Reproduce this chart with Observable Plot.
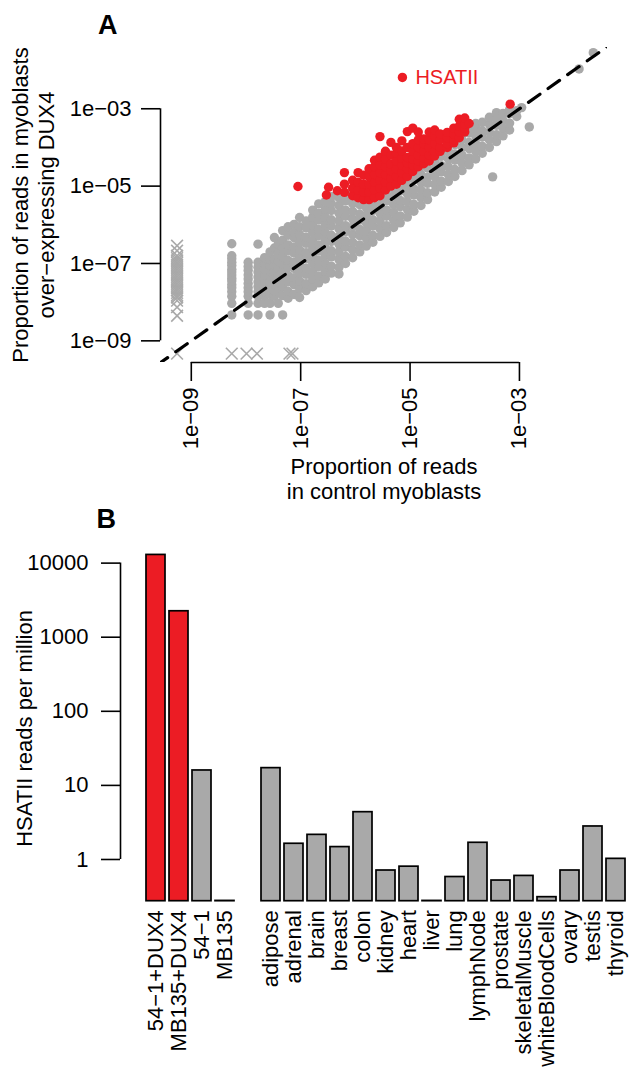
<!DOCTYPE html>
<html><head><meta charset="utf-8">
<script src="https://cdn.jsdelivr.net/npm/d3@7"></script>
<script src="https://cdn.jsdelivr.net/npm/@observablehq/plot@0.6"></script>
<style>
body{margin:0;background:#fff;}
#chart svg{display:block;overflow:visible;}
</style></head><body><div id="chart"></div>
<script>
// ---------------- Panel A data (log10 proportion of reads) ----------------
// x = control myoblasts, y = myoblasts over-expressing DUX4
const scatterTicks = [1e-9, 1e-7, 1e-5, 1e-3];
const scatterTickLabels = ["1e\u221209", "1e\u221207", "1e\u221205", "1e\u221203"];

// repeats with zero reads in one sample (drawn as crosses at the pseudo value)
const crossPairs = [
  [-9.26,-6.54],[-9.26,-6.67],[-9.26,-6.8],[-9.26,-6.86],[-9.26,-6.92],[-9.26,-6.98],[-9.26,-7.04],
  [-9.26,-7.1],[-9.26,-7.16],[-9.26,-7.22],[-9.26,-7.28],[-9.26,-7.34],[-9.26,-7.4],[-9.26,-7.46],
  [-9.26,-7.52],[-9.26,-7.58],[-9.26,-7.64],[-9.26,-7.7],[-9.26,-7.76],[-9.26,-7.82],[-9.26,-7.88],
  [-9.26,-7.96],[-9.26,-8.13],[-9.26,-8.35],
  [-9.26,-9.33],[-8.26,-9.33],[-7.99,-9.33],[-7.8,-9.33],[-7.205,-9.33],[-7.15,-9.33]
];

// grey repeats: [control log10, [DUX4 log10 values]]
const greyColumns = [
  [-8.26,[-8.33,-8.03,-7.85,-7.73,-7.63,-7.55,-7.45,-7.38,-7.3,-7.22,-7.15,-7.05,-6.97,-6.88,-6.8,-6.49]],
  [-7.96,[-8.33,-8.03,-7.85,-7.73,-7.63,-7.52,-7.4,-7.3,-7.18,-7.08,-6.97]],
  [-7.78,[-8.33,-8.03,-7.85,-7.73,-7.6,-7.48,-7.35,-7.22,-7.1,-6.97,-6.5]],
  [-7.66,[-8.03,-7.85,-7.73,-7.6,-7.45,-7.3,-7.15,-7.0,-6.85]],
  [-7.56,[-8.33,-8.03,-7.8,-7.63,-7.48,-7.33,-7.2,-7.05,-6.9,-6.7]],
  [-7.48,[-7.85,-7.7,-7.55,-7.38,-7.22,-7.05,-6.88,-6.6,-6.33]],
  [-7.41,[-8.03,-7.73,-7.5,-7.3,-7.12,-6.95,-6.75,-6.5]],
  [-7.33,[-8.33,-7.83,-7.6,-7.4,-7.2,-7.0,-6.82,-6.6,-6.4,-6.15]],
  [-7.23,[-7.9,-7.72,-7.48,-7.31,-7.08,-6.92,-6.68,-6.52,-6.27,-6.05]],
  [-7.12,[-7.8,-7.55,-7.37,-7.13,-6.97,-6.73,-6.57,-6.33,-6.2,-5.99]],
  [-7.02,[-7.88,-7.65,-7.45,-7.25,-7.05,-6.85,-6.65,-6.45,-6.25,-6.05,-5.81]],
  [-6.9,[-7.7,-7.52,-7.28,-7.12,-6.88,-6.72,-6.48,-6.32,-6.08,-5.9]],
  [-6.78,[-7.6,-7.4,-7.2,-7.0,-6.8,-6.6,-6.4,-6.2,-6.0,-5.8,-5.62]],
  [-6.67,[-7.5,-7.32,-7.08,-6.92,-6.68,-6.52,-6.28,-6.12,-5.88,-5.7,-5.46]],
  [-6.55,[-7.4,-7.2,-7.0,-6.8,-6.6,-6.4,-6.2,-6.0,-5.8,-5.6,-5.4]],
  [-6.44,[-7.25,-7.07,-6.83,-6.67,-6.43,-6.27,-6.03,-5.87,-5.63,-5.45,-5.27]],
  [-6.3,[-7.27,-7.1,-6.9,-6.7,-6.5,-6.3,-6.1,-5.9,-5.7,-5.5,-5.3]],
  [-6.18,[-7.0,-6.82,-6.58,-6.42,-6.18,-6.02,-5.78,-5.62,-5.38,-5.2]],
  [-6.05,[-6.85,-6.65,-6.45,-6.25,-6.05,-5.85,-5.65,-5.45,-5.25,-5.1]],
  [-5.92,[-6.7,-6.52,-6.28,-6.12,-5.88,-5.72,-5.48,-5.32,-5.1]],
  [-5.8,[-6.55,-6.35,-6.15,-5.95,-5.75,-5.55,-5.35,-5.15,-4.98]],
  [-5.68,[-6.45,-6.27,-6.03,-5.87,-5.63,-5.47,-5.23,-5.07,-4.9]],
  [-5.55,[-6.3,-6.1,-5.9,-5.7,-5.5,-5.3,-5.1,-4.9]],
  [-5.43,[-6.2,-6.02,-5.78,-5.62,-5.38,-5.22,-4.98,-4.8]],
  [-5.3,[-6.07,-5.88,-5.68,-5.48,-5.28,-5.08,-4.88,-4.7]],
  [-5.18,[-5.95,-5.77,-5.53,-5.37,-5.13,-4.97,-4.73,-4.6]],
  [-5.05,[-5.8,-5.6,-5.4,-5.2,-5.0,-4.8,-4.6]],
  [-4.93,[-5.65,-5.47,-5.23,-5.07,-4.83,-4.67,-4.45]],
  [-4.8,[-5.5,-5.3,-5.1,-4.9,-4.7,-4.5,-4.32]],
  [-4.68,[-5.35,-5.17,-4.93,-4.77,-4.53,-4.37,-4.2]],
  [-4.55,[-5.15,-4.95,-4.75,-4.55,-4.35,-4.15]],
  [-4.43,[-5.03,-4.87,-4.63,-4.47,-4.23,-4.05]],
  [-4.3,[-4.88,-4.7,-4.5,-4.3,-4.1,-3.92]],
  [-4.18,[-4.75,-4.57,-4.33,-4.17,-3.93,-3.8]],
  [-4.05,[-4.6,-4.4,-4.2,-4.0,-3.8,-3.65]],
  [-3.92,[-4.45,-4.27,-4.03,-3.87,-3.63,-3.5]],
  [-3.8,[-4.3,-4.1,-3.9,-3.7,-3.5,-3.38]],
  [-3.68,[-4.15,-3.97,-3.73,-3.57,-3.35]],
  [-3.55,[-4.0,-3.8,-3.6,-3.4,-3.22]],
  [-3.42,[-3.85,-3.67,-3.43,-3.27,-3.1]],
  [-3.3,[-3.7,-3.5,-3.3,-3.12]],
  [-3.18,[-3.55,-3.37,-3.13,-3.02]],
  [-3.05,[-3.2,-3.05]],
  [-2.96,[-2.97]],
  [-2.82,[-3.47]],
  [-3.49,[-4.76]],
  [-1.91,[-1.97]],
  [-1.65,[-1.55]]
];

// red repeats (enriched in DUX4 myoblasts)
const redColumns = [
  [-7.05,[-5.01]],
  [-6.53,[-5.23]],
  [-6.49,[-5.03]],
  [-6.33,[-5.12]],
  [-6.2,[-5.16,-4.95,-4.65]],
  [-6.05,[-5.25,-5.05,-4.85]],
  [-5.95,[-5.3,-5.1,-4.9,-4.65]],
  [-5.85,[-5.35,-5.15,-4.95,-4.72]],
  [-5.75,[-5.35,-5.15,-4.95,-4.75,-4.55]],
  [-5.65,[-5.3,-5.1,-4.9,-4.7,-4.5,-4.33]],
  [-5.55,[-5.25,-5.05,-4.85,-4.65,-4.45,-4.25,-3.72]],
  [-5.45,[-5.1,-4.9,-4.7,-4.5,-4.3,-4.1]],
  [-5.35,[-5.0,-4.8,-4.6,-4.43,-4.2,-3.87]],
  [-5.25,[-4.95,-4.75,-4.55,-4.35,-4.15,-4.0]],
  [-5.15,[-4.85,-4.65,-4.45,-4.28,-4.09,-3.83]],
  [-5.05,[-4.75,-4.55,-4.4,-4.26,-4.0,-3.59]],
  [-4.95,[-4.62,-4.45,-4.3,-4.1,-3.9,-3.5]],
  [-4.85,[-4.5,-4.35,-4.2,-4.0,-3.8,-3.6]],
  [-4.75,[-4.42,-4.28,-4.1,-3.9,-3.78]],
  [-4.65,[-4.35,-4.2,-4.0,-3.8,-3.6]],
  [-4.55,[-4.22,-4.1,-3.9,-3.7,-3.55]],
  [-4.45,[-4.1,-4.0,-3.8,-3.65]],
  [-4.32,[-4.0,-3.9,-3.75,-3.61]],
  [-4.2,[-3.88,-3.8,-3.65,-3.5]],
  [-4.1,[-3.75,-3.6,-3.45,-3.27]],
  [-4.0,[-3.6,-3.5,-3.4,-3.24]],
  [-3.92,[-3.38]],
  [-3.17,[-2.88]]
];

const hsatii = {name: "HSATII", controlLog: -5.14, dux4Log: -2.19};
const identityLine = [1e-10, 1e-1];

// ---------------- Panel B data ----------------
const cellLineNames = ["54\u22121+DUX4", "MB135+DUX4", "54\u22121", "MB135"];
const cellLineValues = [12900, 2240, 15.9, 0.276];
const cellLineHighlight = [true, true, false, false];
const tissueNames = ["adipose","adrenal","brain","breast","colon","kidney","heart","liver","lung",
  "lymphNode","prostate","skeletalMuscle","whiteBloodCells","ovary","testis","thyroid"];
const tissueValues = [17.1, 1.63, 2.15, 1.47, 4.35, 0.71, 0.80, 0.276, 0.58, 1.68, 0.52, 0.60, 0.31, 0.71, 2.79, 1.02];
const barTicks = [1, 10, 100, 1000, 10000];
const barTickLabels = ["1", "10", "100", "1000", "10000"];
const gapCategory = "";

// ---------------- styling ----------------
const FONT = "'Liberation Sans', Arial, Helvetica, sans-serif";
const RED = "#ec1c24";
const GREY = "#a9a9a9";

const toPoints = (cols) => cols.flatMap(([cx, ys]) => ys.map((cy) => ({control: 10 ** cx, dux4: 10 ** cy})));
const grey = toPoints(greyColumns);
const red = toPoints(redColumns);
const crosses = crossPairs.map(([cx, cy]) => ({control: 10 ** cx, dux4: 10 ** cy}));
const hs = [{name: hsatii.name, control: 10 ** hsatii.controlLog, dux4: 10 ** hsatii.dux4Log}];

const xDomA = [10 ** -9.563, 10 ** -1.39];
const yDomA = [10 ** -9.56, 10 ** -1.416];

const plotA = Plot.plot({
  width: 640, height: 510,
  marginLeft: 160, marginRight: 33, marginTop: 47, marginBottom: 148,
  style: {fontFamily: FONT, fontSize: "22px", background: "white", color: "black", overflow: "visible"},
  x: {type: "log", domain: xDomA},
  y: {type: "log", domain: yDomA},
  marks: [
    Plot.dot(crosses, {x: "control", y: "dux4", symbol: "times", r: 5.4, stroke: GREY, strokeWidth: 1.6}),
    Plot.dot(grey, {x: "control", y: "dux4", r: 4.7, fill: GREY}),
    Plot.dot(red, {x: "control", y: "dux4", r: 4.7, fill: RED}),
    Plot.dot(hs, {x: "control", y: "dux4", r: 4.7, fill: RED}),
    Plot.text(hs, {x: "control", y: "dux4", text: "name", dx: 13, textAnchor: "start", lineAnchor: "middle", fill: RED, fontSize: 20}),
    Plot.line(identityLine, {x: (d) => d, y: (d) => d, stroke: "black", strokeWidth: 3.2, strokeDasharray: "14,10", clip: true}),
    Plot.ruleX([xDomA[0]], {y1: scatterTicks[0], y2: scatterTicks[3], strokeWidth: 1.6}),
    Plot.ruleY([yDomA[0]], {x1: scatterTicks[0], x2: scatterTicks[3], strokeWidth: 1.6}),
    Plot.axisY({ticks: scatterTicks, tickFormat: (d) => scatterTickLabels[scatterTicks.indexOf(d)], tickSize: 19, tickPadding: 10, fontSize: 22, strokeWidth: 1.6, label: null}),
    Plot.axisX({ticks: scatterTicks, tickFormat: (d) => scatterTickLabels[scatterTicks.indexOf(d)], tickSize: 19, tickPadding: 6, tickRotate: -90, textAnchor: "end", lineAnchor: "middle", fontSize: 22, strokeWidth: 1.6, label: null}),
    Plot.text(["A"], {text: (d) => d, frameAnchor: "top-left", dx: -62.5, dy: -14, textAnchor: "start", lineAnchor: "bottom", fontWeight: "bold", fontSize: 27}),
    Plot.text(["Proportion of reads in myoblasts\nover\u2212expressing DUX4"], {text: (d) => d, frameAnchor: "left", rotate: -90, textAnchor: "middle", lineAnchor: "bottom", lineHeight: 1.15, dx: -107, fontSize: 22}),
    Plot.text(["Proportion of reads\nin control myoblasts"], {text: (d) => d, frameAnchor: "bottom", textAnchor: "middle", lineAnchor: "bottom", lineHeight: 1.13, dy: 136, fontSize: 22})
  ]
});

// ---------------- Panel B ----------------
const bars = [
  ...cellLineNames.map((name, i) => ({name, value: cellLineValues[i], color: cellLineHighlight[i] ? RED : GREY})),
  ...tissueNames.map((name, i) => ({name, value: tissueValues[i], color: GREY}))
];
const xDomB = [...cellLineNames, gapCategory, ...tissueNames];
const yDomB = [10 ** -0.563, 10 ** 4.2];
const widthB = 640, marginLeftB = 120, marginRightB = 5.8;

const plotB = Plot.plot({
  width: widthB, height: 570,
  marginLeft: marginLeftB, marginRight: marginRightB, marginTop: 37.8, marginBottom: 179.3,
  style: {fontFamily: FONT, fontSize: "22px", background: "transparent", color: "black", overflow: "visible"},
  x: {type: "band", domain: xDomB, range: [137.5, 634.2], paddingInner: 0.2 / 1.2, paddingOuter: 0.1 / 1.2, align: 0.5},
  y: {type: "log", domain: yDomB},
  marks: [
    Plot.barY(bars, {x: "name", y1: yDomB[0], y2: "value", fill: "color", stroke: "black", strokeWidth: 1.7}),
    Plot.ruleX([0], {x: null, y1: barTicks[0], y2: barTicks[4], strokeWidth: 1.6, dx: marginLeftB - (marginLeftB + widthB - marginRightB) / 2}),
    Plot.axisY({ticks: barTicks, tickFormat: (d) => barTickLabels[barTicks.indexOf(d)], tickSize: 19, tickPadding: 13, fontSize: 22, strokeWidth: 1.6, label: null}),
    Plot.axisX({ticks: [...cellLineNames, ...tissueNames], tickSize: 0, tickPadding: 9, tickRotate: -90, textAnchor: "end", lineAnchor: "middle", fontSize: 22, label: null}),
    Plot.text(["B"], {text: (d) => d, frameAnchor: "top-left", dx: -24, dy: -20.8, textAnchor: "start", lineAnchor: "bottom", fontWeight: "bold", fontSize: 27}),
    Plot.text(["HSATII reads per million"], {text: (d) => d, frameAnchor: "left", rotate: -90, textAnchor: "middle", lineAnchor: "bottom", dx: -89, dy: 3.7, fontSize: 22})
  ]
});

document.getElementById("chart").append(plotA, plotB);
</script></body></html>
